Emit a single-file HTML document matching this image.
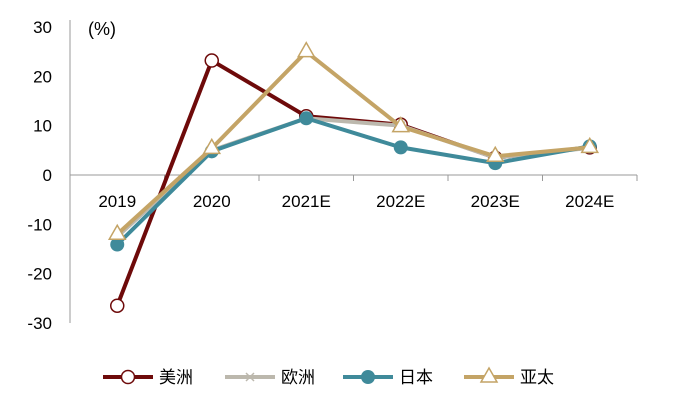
<!DOCTYPE html>
<html><head><meta charset="utf-8"><style>
body{margin:0;background:#fff;}
svg{display:block;font-family:"Liberation Sans","Noto Sans CJK SC",sans-serif;}
</style></head><body>
<svg id="chart" width="673" height="405" viewBox="0 0 673 405"></svg>
<script>
const categories=["2019","2020","2021E","2022E","2023E","2024E"];
const americas=[-26.5,23.2,11.9,10.2,3.5,5.6];
const europe=[-12.5,5,11.5,10,3.5,5.5];
const japan=[-14.1,4.8,11.5,5.6,2.4,5.8];
const apac=[-12,5.4,25,9.8,3.8,5.6];
const yTicks=[30,20,10,0,-10,-20,-30];
const NS="http://www.w3.org/2000/svg";
const svg=document.getElementById('chart');
const x0=70,x1=637,yTop=27,yBot=323;
const xs=i=>x0+(x1-x0)/categories.length*(i+0.5);
const ys=v=>yTop+(30-v)/60*(yBot-yTop);
function mk(t,a){const e=document.createElementNS(NS,t);for(const k in a)e.setAttribute(k,a[k]);svg.appendChild(e);return e;}
let e;
e=mk('line',{x1:x0,y1:20,x2:x0,y2:yBot,stroke:'#999','stroke-width':1});


e=mk('line',{x1:x0,y1:ys(0),x2:x1,y2:ys(0),stroke:'#999','stroke-width':1});


for(let i=1;i<=categories.length;i++){
 e=mk('line',{x1:x0+(x1-x0)/categories.length*i,y1:ys(0),x2:x0+(x1-x0)/categories.length*i,y2:ys(0)+6,stroke:'#999'});
 
 
}
yTicks.forEach(v=>{
 e=mk('text',{x:52,y:ys(v)+6,'text-anchor':'end','font-size':17,fill:'#000'});e.textContent=v;
 
 
});
categories.forEach((c,i)=>{
 e=mk('text',{x:xs(i),y:207,'text-anchor':'middle','font-size':17,fill:'#000'});e.textContent=c;
 
 
});
e=mk('text',{x:88,y:35,'font-size':18,fill:'#000'});e.textContent='(%)';


function marker(type,cx,cy,color){
 let m;
 if(type==='circle-open')m=mk('circle',{cx,cy,r:6.5,fill:'#fff',stroke:color,'stroke-width':1.5});
 else if(type==='circle')m=mk('circle',{cx,cy,r:7,fill:color});
 else if(type==='x')m=mk('path',{d:`M${cx-4},${cy-4}L${cx+4},${cy+4}M${cx-4},${cy+4}L${cx+4},${cy-4}`,stroke:color,'stroke-width':1.5});
 else m=mk('path',{d:`M${cx},${cy-9}L${cx+8},${cy+5}L${cx-8},${cy+5}Z`,fill:'#fff',stroke:color,'stroke-width':1.5});
 return m;
}
const series=[
 {name:'americas',label:'美洲',data:americas,color:'#6e0a0a',m:'circle-open',lx:103},
 {name:'europe',label:'欧洲',data:europe,color:'#bcb8ad',m:'x',lx:225},
 {name:'japan',label:'日本',data:japan,color:'#3f8a9a',m:'circle',lx:343},
 {name:'apac',label:'亚太',data:apac,color:'#c4a466',m:'tri',lx:464}
];
series.forEach(s=>{
 e=mk('polyline',{points:s.data.map((v,i)=>xs(i)+','+ys(v)).join(' '),fill:'none',stroke:s.color,'stroke-width':4,'stroke-linejoin':'round'});
 
 
 s.data.forEach((v,i)=>{
  e=marker(s.m,xs(i),ys(v),s.color);
  
  
 });
 e=mk('line',{x1:s.lx,y1:377,x2:s.lx+50,y2:377,stroke:s.color,'stroke-width':4});
 
 
 e=marker(s.m,s.lx+25,377,s.color);
 
 
 e=mk('text',{x:s.lx+56,y:383,'font-size':17,fill:'#000'});e.textContent=s.label;
 
 
});
</script>
</body></html>
